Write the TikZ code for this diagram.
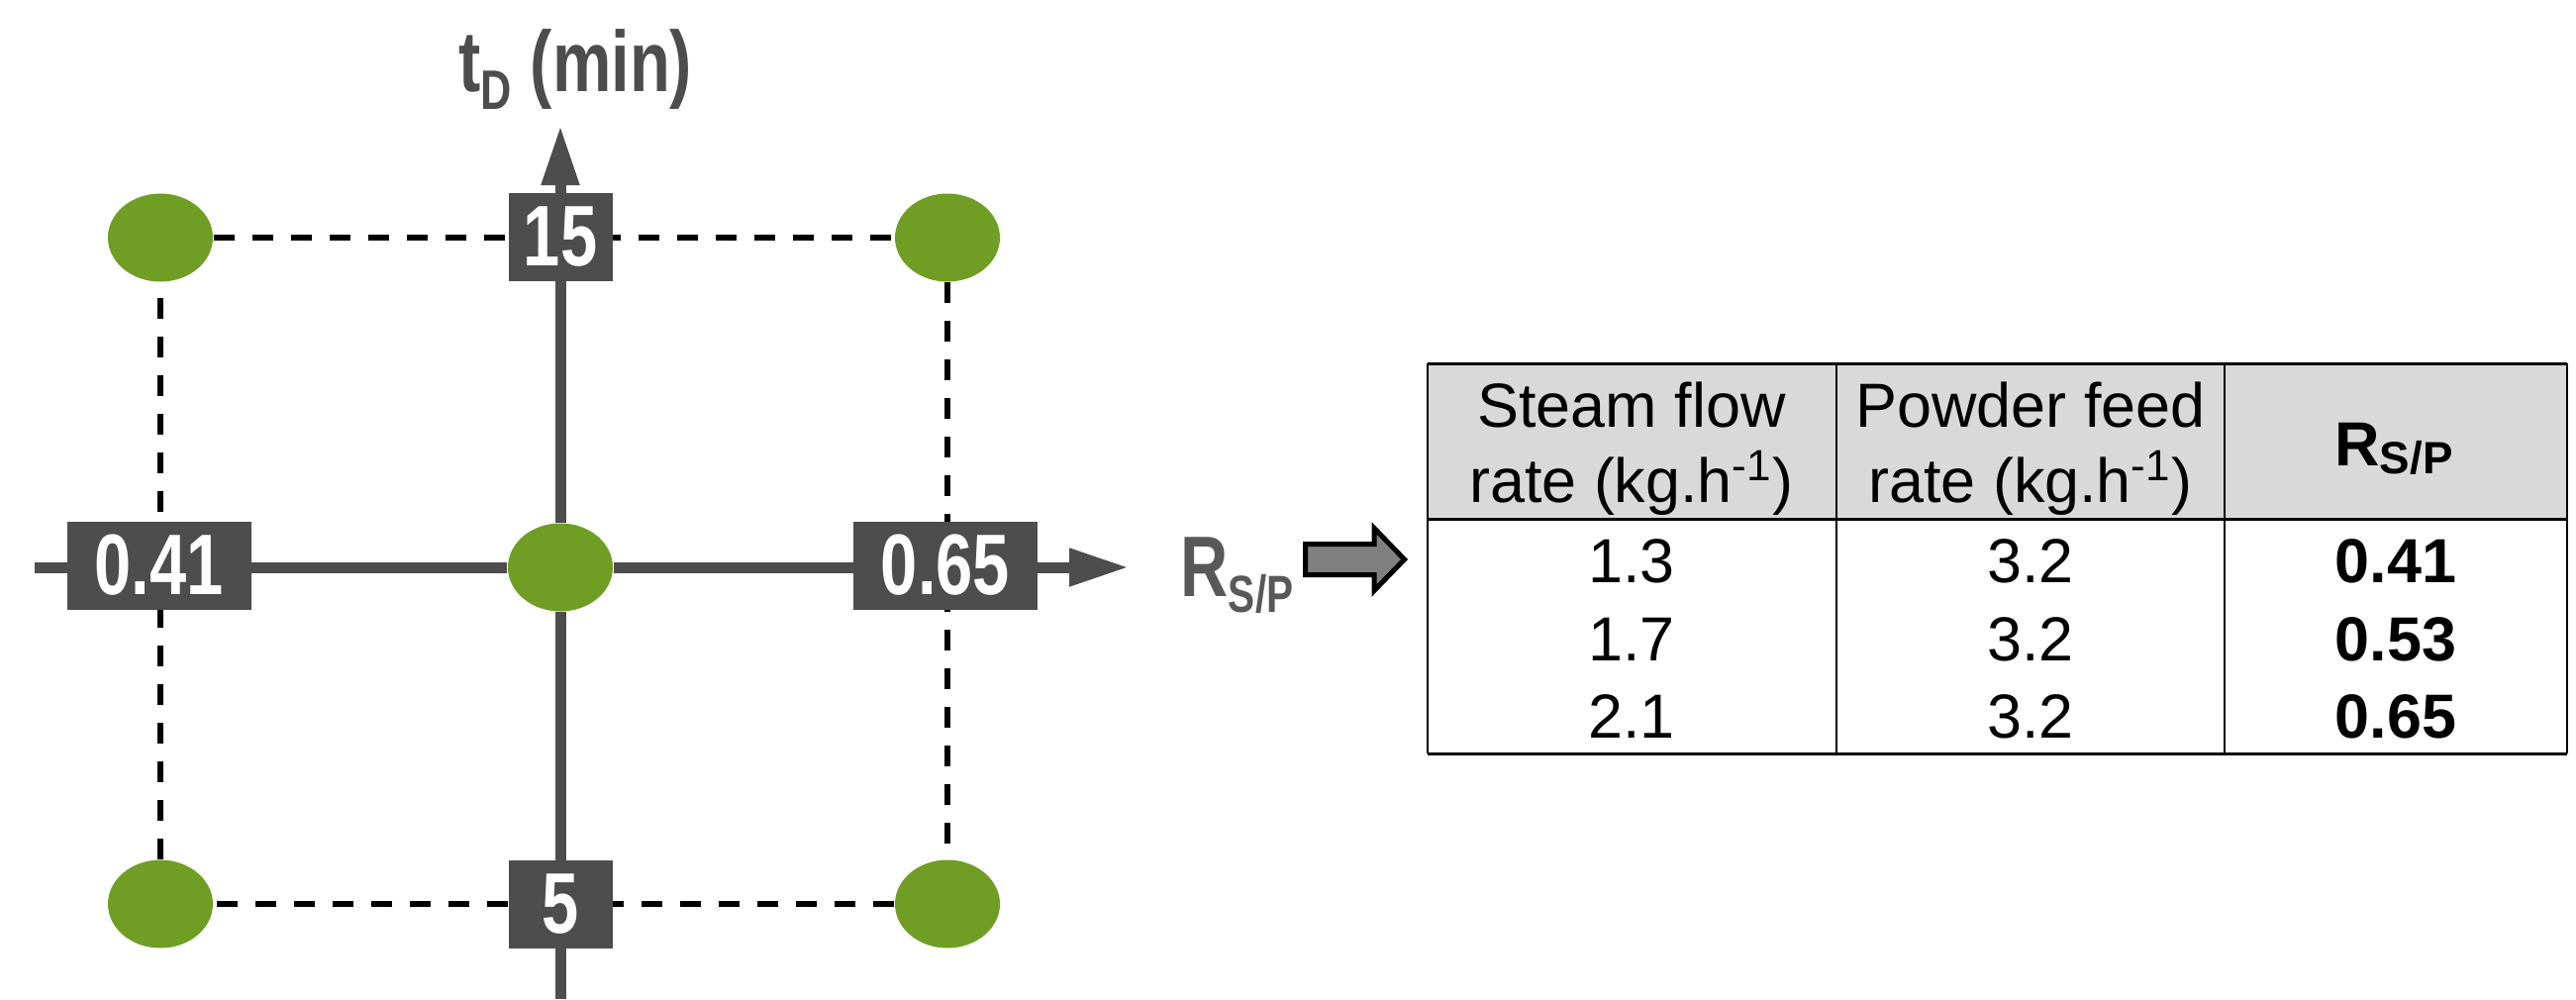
\documentclass[tikz,border=0pt]{standalone}
\usepackage{fontspec}
\setmainfont{Liberation Sans}
\newfontfamily\narrowfont[FakeStretch=0.77]{Liberation Sans}
\usetikzlibrary{arrows.meta,shapes.geometric,shapes.arrows}
\definecolor{axisgray}{RGB}{77,77,77}
\definecolor{labelgray}{RGB}{89,89,89}
\definecolor{dotgreen}{RGB}{112,157,35}
\definecolor{headgray}{RGB}{217,217,217}
\definecolor{pointergray}{RGB}{128,128,128}
\newcommand\dropsub[3]{\raisebox{-#2}{\fontsize{#1}{#1}\selectfont #3}}

\begin{document}
\begin{tikzpicture}[
        dot/.style={ellipse, fill=dotgreen, minimum width=1.06cm, minimum height=0.89cm, inner sep=0pt},
        valbox/.style={fill=axisgray, text=white, inner sep=0pt, minimum height=0.89cm, font=\narrowfont\bfseries\fontsize{24.7}{26}\selectfont},
        grid line/.style={dash pattern=on 0.21cm off 0.18cm, line width=0.06cm},
        axis/.style={draw=axisgray, line width=0.11cm},
        axis label/.style={inner sep=0pt, font=\narrowfont\bfseries\fontsize{24.7}{26}\selectfont},
        cell/.style={inner sep=0pt, align=center, font=\fontsize{17.9}{21.6}\selectfont},
        pointer/.style={single arrow, draw=black, line width=0.05cm, fill=pointergray, inner xsep=0pt, inner ysep=0.13cm, minimum height=1.0cm, single arrow head extend=0.16cm, single arrow tip angle=92}
    ]
        \useasboundingbox (0,0) rectangle (26.02,10.09);

        \node[dot] (tl) at (1.62,7.69) {};
        \node[dot] (tr) at (9.57,7.69) {};
        \node[dot] (bl) at (1.62,0.96) {};
        \node[dot] (br) at (9.57,0.96) {};
        \node[dot] (mid) at (5.66,4.36) {};

        \draw[grid line] (tl) -- (tr);
        \draw[grid line] (tr) -- (br);
        \draw[grid line] (br) -- (bl);
        \draw[grid line] (bl) -- (tl);

        \coordinate (xl) at (0.35,4.36);
        \coordinate (xr) at (11.40,4.36);
        \coordinate (yb) at (5.66,0);
        \coordinate (yt) at (5.66,8.82);
        \draw[axis] (xl) -- (mid);
        \draw[axis, -{Triangle[length=0.6cm,width=0.36cm]}] (mid) -- (xr);
        \draw[axis] (yb) -- (mid);
        \draw[axis, -{Triangle[length=0.6cm,width=0.36cm]}] (mid) -- (yt);

        \node[valbox, minimum width=1.05cm] (t15) at (5.66,7.70) {15};
        \node[valbox, minimum width=1.05cm] (t5) at (5.66,0.96) {5};
        \node[valbox, minimum width=1.86cm] (r41) at (1.605,4.38) {0.41};
        \node[valbox, minimum width=1.86cm] (r65) at (9.55,4.38) {0.65};

        \node[axis label, text=axisgray, anchor=base west] (tname) at (4.63,9.17) {t\dropsub{16pt}{0.18cm}{D} (min)};
        \node[axis label, text=labelgray, anchor=base west] (rname) at (11.92,4.07) {R\dropsub{15pt}{0.16cm}{S/P}};

        \node[pointer, anchor=tip] (arrow) at (14.22,4.44) {};

        \fill[headgray] (14.42,4.85) rectangle (25.93,6.42);
        \draw[line width=0.03cm] (14.42,6.42) -- (25.93,6.42);
        \draw[line width=0.03cm] (14.42,4.85) -- (25.93,4.85);
        \draw[line width=0.03cm] (14.42,2.48) -- (25.93,2.48);
        \foreach \x in {14.42,18.55,22.47,25.93}
            \draw[line width=0.02cm] (\x,2.48) -- (\x,6.42);

        \node[cell] (steam) at (16.48,5.555) {Steam flow\\rate (kg.h\textsuperscript{-1})};
        \node[cell] (powder) at (20.51,5.555) {Powder feed\\rate (kg.h\textsuperscript{-1})};
        \node[cell, anchor=base] (ratio) at (24.18,5.39) {{\bfseries R}\dropsub{13pt}{0.08cm}{\bfseries S/P}};

        \node[cell, anchor=base] (s1) at (16.48,4.21) {1.3};
        \node[cell, anchor=base] (p1) at (20.51,4.21) {3.2};
        \node[cell, anchor=base, font=\bfseries\fontsize{17.9}{21.6}\selectfont] (v1) at (24.20,4.21) {0.41};
        \node[cell, anchor=base] (s2) at (16.48,3.42) {1.7};
        \node[cell, anchor=base] (p2) at (20.51,3.42) {3.2};
        \node[cell, anchor=base, font=\bfseries\fontsize{17.9}{21.6}\selectfont] (v2) at (24.20,3.42) {0.53};
        \node[cell, anchor=base] (s3) at (16.48,2.64) {2.1};
        \node[cell, anchor=base] (p3) at (20.51,2.64) {3.2};
        \node[cell, anchor=base, font=\bfseries\fontsize{17.9}{21.6}\selectfont] (v3) at (24.20,2.64) {0.65};
    \end{tikzpicture}
\end{document}
